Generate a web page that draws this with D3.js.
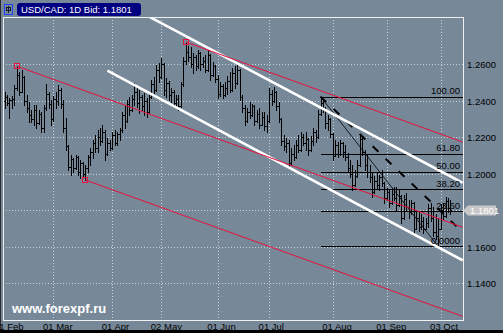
<!DOCTYPE html>
<html>
<head>
<meta charset="utf-8">
<script src="https://cdn.jsdelivr.net/npm/d3@7"></script>
<style>
  html, body { margin: 0; padding: 0; background: #778899; overflow: hidden; }
  svg { display: block; }
  text { font-family: "Liberation Sans", Arial, sans-serif; }
</style>
</head>
<body>
<script>
// daily USD/CAD bars, one entry per trading day
const opens = [
  1.2400, 1.2420, 1.2390, 1.2405, 1.2410, 1.2470, 1.2540, 1.2450, 1.2530, 1.2400,
  1.2360, 1.2320, 1.2300, 1.2350, 1.2280, 1.2330, 1.2250, 1.2360, 1.2440, 1.2380,
  1.2300, 1.2410, 1.2400, 1.2460, 1.2380, 1.2250, 1.2150, 1.2040, 1.2080, 1.2030,
  1.2090, 1.2010, 1.2060, 1.2000, 1.2030, 1.2090, 1.2120, 1.2170, 1.2140, 1.2200,
  1.2180, 1.2230, 1.2110, 1.2170, 1.2140, 1.2210, 1.2170, 1.2220, 1.2240, 1.2320,
  1.2290, 1.2380, 1.2350, 1.2410, 1.2450, 1.2390, 1.2420, 1.2370, 1.2400, 1.2340,
  1.2420, 1.2490, 1.2460, 1.2570, 1.2530, 1.2600, 1.2460, 1.2500, 1.2430, 1.2450,
  1.2390, 1.2410, 1.2370, 1.2490, 1.2620, 1.2670, 1.2640, 1.2600, 1.2640, 1.2590,
  1.2660, 1.2600, 1.2620, 1.2570, 1.2650, 1.2540, 1.2590, 1.2520, 1.2440, 1.2480,
  1.2430, 1.2470, 1.2510, 1.2460, 1.2550, 1.2500, 1.2570, 1.2420, 1.2360, 1.2290,
  1.2340, 1.2320, 1.2370, 1.2290, 1.2330, 1.2270, 1.2310, 1.2260, 1.2290, 1.2440,
  1.2400, 1.2450, 1.2370, 1.2300, 1.2180, 1.2150, 1.2170, 1.2060, 1.2110, 1.2090,
  1.2160, 1.2130, 1.2200, 1.2170, 1.2190, 1.2130, 1.2180, 1.2230, 1.2200, 1.2330,
  1.2390, 1.2360, 1.2280, 1.2300, 1.2220, 1.2100, 1.2160, 1.2110, 1.2170, 1.2120,
  1.2090, 1.2030, 1.2000, 1.1940, 1.1990, 1.2050, 1.2190, 1.2120, 1.2050, 1.2010,
  1.1980, 1.1900, 1.1960, 1.1940, 1.1980, 1.1950, 1.1870, 1.1900, 1.1840, 1.1890,
  1.1870, 1.1830, 1.1880, 1.1760, 1.1860, 1.1820, 1.1790, 1.1840, 1.1700, 1.1760,
  1.1710, 1.1740, 1.1700, 1.1730, 1.1810, 1.1760, 1.1680, 1.1660, 1.1700, 1.1800,
  1.1770, 1.1850, 1.1810
];
const highs = [
  1.2448, 1.2432, 1.2416, 1.2427, 1.2487, 1.2590, 1.2558, 1.2569, 1.2536, 1.2432,
  1.2394, 1.2350, 1.2378, 1.2378, 1.2350, 1.2340, 1.2378, 1.2492, 1.2448, 1.2405,
  1.2427, 1.2448, 1.2487, 1.2470, 1.2405, 1.2307, 1.2159, 1.2105, 1.2088, 1.2105,
  1.2096, 1.2077, 1.2066, 1.2050, 1.2105, 1.2143, 1.2186, 1.2214, 1.2241, 1.2252,
  1.2268, 1.2240, 1.2197, 1.2186, 1.2230, 1.2241, 1.2230, 1.2252, 1.2340, 1.2378,
  1.2405, 1.2421, 1.2432, 1.2498, 1.2470, 1.2459, 1.2432, 1.2443, 1.2416, 1.2432,
  1.2514, 1.2530, 1.2596, 1.2607, 1.2634, 1.2605, 1.2525, 1.2508, 1.2470, 1.2459,
  1.2432, 1.2432, 1.2503, 1.2640, 1.2722, 1.2700, 1.2695, 1.2662, 1.2651, 1.2678,
  1.2667, 1.2640, 1.2651, 1.2678, 1.2655, 1.2612, 1.2596, 1.2541, 1.2503, 1.2492,
  1.2503, 1.2536, 1.2558, 1.2580, 1.2591, 1.2596, 1.2575, 1.2432, 1.2378, 1.2361,
  1.2394, 1.2383, 1.2376, 1.2350, 1.2361, 1.2340, 1.2340, 1.2323, 1.2470, 1.2459,
  1.2476, 1.2455, 1.2394, 1.2307, 1.2214, 1.2197, 1.2186, 1.2143, 1.2159, 1.2186,
  1.2214, 1.2230, 1.2219, 1.2230, 1.2197, 1.2208, 1.2252, 1.2241, 1.2350, 1.2423,
  1.2405, 1.2365, 1.2323, 1.2305, 1.2225, 1.2186, 1.2175, 1.2186, 1.2175, 1.2159,
  1.2115, 1.2077, 1.2050, 1.2023, 1.2077, 1.2219, 1.2208, 1.2132, 1.2105, 1.2050,
  1.2012, 1.1990, 1.2006, 1.1995, 1.2023, 1.1955, 1.1924, 1.1913, 1.1924, 1.1929,
  1.1929, 1.1913, 1.1885, 1.1886, 1.1897, 1.1859, 1.1859, 1.1845, 1.1793, 1.1788,
  1.1777, 1.1766, 1.1760, 1.1832, 1.1842, 1.1820, 1.1777, 1.1760, 1.1832, 1.1842,
  1.1875, 1.1870, 1.1859
];
const lows = [
  1.2361, 1.2378, 1.2307, 1.2361, 1.2378, 1.2459, 1.2432, 1.2448, 1.2378, 1.2340,
  1.2285, 1.2285, 1.2268, 1.2252, 1.2274, 1.2230, 1.2230, 1.2350, 1.2361, 1.2268,
  1.2292, 1.2361, 1.2378, 1.2361, 1.2230, 1.2132, 1.2023, 1.1995, 1.2012, 1.2025,
  1.1995, 1.1979, 1.1990, 1.1966, 1.2012, 1.2050, 1.2088, 1.2121, 1.2121, 1.2159,
  1.2175, 1.2077, 1.2105, 1.2132, 1.2135, 1.2159, 1.2159, 1.2186, 1.2230, 1.2252,
  1.2285, 1.2323, 1.2345, 1.2378, 1.2367, 1.2334, 1.2350, 1.2323, 1.2312, 1.2335,
  1.2415, 1.2432, 1.2455, 1.2503, 1.2525, 1.2432, 1.2421, 1.2405, 1.2394, 1.2378,
  1.2361, 1.2350, 1.2365, 1.2480, 1.2600, 1.2620, 1.2585, 1.2552, 1.2569, 1.2580,
  1.2569, 1.2585, 1.2558, 1.2565, 1.2514, 1.2535, 1.2503, 1.2416, 1.2427, 1.2416,
  1.2425, 1.2437, 1.2448, 1.2455, 1.2470, 1.2492, 1.2405, 1.2340, 1.2268, 1.2285,
  1.2307, 1.2315, 1.2268, 1.2285, 1.2252, 1.2265, 1.2241, 1.2230, 1.2285, 1.2378,
  1.2394, 1.2350, 1.2285, 1.2159, 1.2132, 1.2121, 1.2034, 1.2050, 1.2077, 1.2085,
  1.2121, 1.2125, 1.2159, 1.2132, 1.2105, 1.2125, 1.2159, 1.2175, 1.2195, 1.2323,
  1.2340, 1.2252, 1.2241, 1.2203, 1.2077, 1.2095, 1.2094, 1.2105, 1.2094, 1.2077,
  1.2012, 1.1984, 1.1913, 1.1935, 1.1984, 1.2045, 1.2105, 1.2023, 1.1984, 1.1957,
  1.1875, 1.1895, 1.1924, 1.1913, 1.1935, 1.1842, 1.1859, 1.1820, 1.1836, 1.1859,
  1.1804, 1.1825, 1.1733, 1.1755, 1.1804, 1.1760, 1.1777, 1.1678, 1.1695, 1.1684,
  1.1695, 1.1678, 1.1695, 1.1706, 1.1739, 1.1657, 1.1641, 1.1602, 1.1695, 1.1750,
  1.1765, 1.1793, 1.1777
];
const closes = [
  1.2420, 1.2390, 1.2405, 1.2410, 1.2470, 1.2540, 1.2450, 1.2530, 1.2400, 1.2360,
  1.2320, 1.2300, 1.2350, 1.2280, 1.2330, 1.2250, 1.2360, 1.2440, 1.2380, 1.2300,
  1.2410, 1.2400, 1.2460, 1.2380, 1.2250, 1.2150, 1.2040, 1.2080, 1.2030, 1.2090,
  1.2010, 1.2060, 1.2000, 1.2030, 1.2090, 1.2120, 1.2170, 1.2140, 1.2200, 1.2180,
  1.2230, 1.2110, 1.2170, 1.2140, 1.2210, 1.2170, 1.2220, 1.2240, 1.2320, 1.2290,
  1.2380, 1.2350, 1.2410, 1.2450, 1.2390, 1.2420, 1.2370, 1.2400, 1.2340, 1.2420,
  1.2490, 1.2460, 1.2570, 1.2530, 1.2600, 1.2460, 1.2500, 1.2430, 1.2450, 1.2390,
  1.2410, 1.2370, 1.2490, 1.2620, 1.2670, 1.2640, 1.2600, 1.2640, 1.2590, 1.2660,
  1.2600, 1.2620, 1.2570, 1.2650, 1.2540, 1.2590, 1.2520, 1.2440, 1.2480, 1.2430,
  1.2470, 1.2510, 1.2460, 1.2550, 1.2500, 1.2570, 1.2420, 1.2360, 1.2290, 1.2340,
  1.2320, 1.2370, 1.2290, 1.2330, 1.2270, 1.2310, 1.2260, 1.2290, 1.2440, 1.2400,
  1.2450, 1.2370, 1.2300, 1.2180, 1.2150, 1.2170, 1.2060, 1.2110, 1.2090, 1.2160,
  1.2130, 1.2200, 1.2170, 1.2190, 1.2130, 1.2180, 1.2230, 1.2200, 1.2330, 1.2390,
  1.2360, 1.2280, 1.2300, 1.2220, 1.2100, 1.2160, 1.2110, 1.2170, 1.2120, 1.2090,
  1.2030, 1.2000, 1.1940, 1.1990, 1.2050, 1.2190, 1.2120, 1.2050, 1.2010, 1.1980,
  1.1900, 1.1960, 1.1940, 1.1980, 1.1950, 1.1870, 1.1900, 1.1840, 1.1890, 1.1870,
  1.1830, 1.1880, 1.1760, 1.1860, 1.1820, 1.1790, 1.1840, 1.1700, 1.1760, 1.1710,
  1.1740, 1.1700, 1.1730, 1.1810, 1.1760, 1.1680, 1.1660, 1.1700, 1.1800, 1.1770,
  1.1850, 1.1810, 1.1801
];

// axis ticks (bar index of the first bar of each month)
const monthIdx = [0, 20, 44, 64, 87, 108, 134, 156, 178];
const monthLabels = ["01 Feb", "01 Mar", "01 Apr", "02 May", "01 Jun", "01 Jul", "01 Aug", "01 Sep", "03 Oct"];
const priceTicks = [1.14, 1.16, 1.18, 1.20, 1.22, 1.24, 1.26];

// drawn objects: [barIndex, price] pairs
const redLines = [
  [[5, 1.2590], [187, 1.1707]],
  [[74, 1.2722], [187, 1.2174]],
  [[33, 1.1966], [187, 1.1219]]
];
const redMarks = [[5, 1.2590], [33, 1.1966], [74, 1.2722]];
const whiteLines = [
  [[59, 1.2861], [187, 1.1951]],
  [[42, 1.2565], [187, 1.1526]]
];
const dashLine = [[129, 1.2423], [187, 1.1680]];
const fibFrom = [129, 1.2423];
const fibTo = [177, 1.1602];
const fibLevels = [0, 23.6, 38.2, 50, 61.8, 100];
const fibLabels = ["0.0000", "23.60", "38.20", "50.00", "61.80", "100.00"];
const bid = 1.1801;

const W = 503, H = 333;
const plot = { left: 3, top: 17, right: 463, bottom: 320 };

const svg = d3.select("body").append("svg")
  .attr("width", W).attr("height", H);

// outer frame
svg.append("rect").attr("width", W).attr("height", H).attr("fill", "#778899");
svg.append("rect").attr("x", 0).attr("y", 0).attr("width", 1).attr("height", H).attr("fill", "#2a2a2a");
svg.append("rect").attr("x", 0).attr("y", H - 3).attr("width", W).attr("height", 3).attr("fill", "#000");

const x = d3.scaleLinear().domain([0, 182]).range([4.5, 450.4]);
const y = d3.scaleLinear().domain([1.14, 1.26]).range([283.3, 64.3]);

svg.append("clipPath").attr("id", "clip")
  .append("rect")
  .attr("x", plot.left).attr("y", plot.top)
  .attr("width", plot.right - plot.left).attr("height", plot.bottom - plot.top);

// grid
const grid = svg.append("g")
  .attr("stroke", "#c8d0d8")
  .attr("stroke-dasharray", "1,2")
  .attr("shape-rendering", "crispEdges");
grid.selectAll("line.v").data(monthIdx.slice(1)).join("line")
  .attr("x1", d => Math.round(x(d)) + 0.5).attr("x2", d => Math.round(x(d)) + 0.5)
  .attr("y1", plot.top).attr("y2", plot.bottom);
grid.selectAll("line.h").data(priceTicks).join("line")
  .attr("x1", plot.left).attr("x2", plot.right)
  .attr("y1", d => Math.round(y(d)) + 0.5).attr("y2", d => Math.round(y(d)) + 0.5);

// x axis labels
const xAxis = d3.axisBottom(x)
  .tickValues(monthIdx)
  .tickSize(0)
  .tickFormat((d, i) => monthLabels[i]);
const gx = svg.append("g")
  .attr("transform", `translate(0,${plot.bottom})`)
  .call(xAxis);
gx.select(".domain").remove();
gx.selectAll("text")
  .attr("text-anchor", "start")
  .attr("dx", -11)
  .attr("y", 9.5)
  .attr("dy", 0)
  .attr("fill", "#000")
  .style("font-size", "9.5px")
  .style("font-family", '"Liberation Sans", Arial, sans-serif');

// y axis labels (the one under the bid marker is hidden, as in the terminal)
const yAxis = d3.axisRight(y)
  .tickValues(priceTicks.filter(p => Math.abs(p - bid) > 0.005))
  .tickSize(0)
  .tickFormat(d3.format(".4f"));
const gy = svg.append("g")
  .attr("transform", `translate(${plot.right},0)`)
  .call(yAxis);
gy.select(".domain").remove();
gy.selectAll("text")
  .attr("x", 4)
  .attr("dy", "0.34em")
  .attr("fill", "#000")
  .style("font-size", "9.5px")
  .style("font-family", '"Liberation Sans", Arial, sans-serif');

const chart = svg.append("g").attr("clip-path", "url(#clip)");

// ** bars
const px = i => Math.round(x(i));
const py = p => Math.round(y(p)) + 0.5;
chart.append("g")
  .attr("stroke", "#000")
  .attr("fill", "none")
  .attr("shape-rendering", "crispEdges")
  .selectAll("path")
  .data(d3.range(closes.length))
  .join("path")
  .attr("d", i => {
    const cx = px(i) + 0.5;
    return `M${cx},${Math.round(y(highs[i]))}V${Math.round(y(lows[i])) + 1}` +
      `M${px(i) - 1},${py(opens[i])}H${px(i)}` +
      `M${px(i) + 1},${py(closes[i])}H${px(i) + 2}`;
  });

// ** fibonacci
const fibHigh = fibFrom[1], fibLow = fibTo[1];
const fibG = chart.append("g");
fibG.selectAll("line").data(fibLevels).join("line")
  .attr("x1", x(fibFrom[0])).attr("x2", plot.right)
  .attr("y1", d => py(fibLow + (fibHigh - fibLow) * d / 100))
  .attr("y2", d => py(fibLow + (fibHigh - fibLow) * d / 100))
  .attr("stroke", "#000")
  .attr("shape-rendering", "crispEdges");
fibG.append("line")
  .attr("x1", x(fibFrom[0])).attr("y1", y(fibFrom[1]))
  .attr("x2", x(fibTo[0])).attr("y2", y(fibTo[1]))
  .attr("stroke", "#000").attr("stroke-width", 0.8);

// dashed trend
chart.append("line")
  .attr("x1", x(dashLine[0][0])).attr("y1", y(dashLine[0][1]))
  .attr("x2", x(dashLine[1][0])).attr("y2", y(dashLine[1][1]))
  .attr("stroke", "#000").attr("stroke-width", 2)
  .attr("stroke-dasharray", "8,10");

// white channel
chart.selectAll("line.white").data(whiteLines).join("line")
  .attr("class", "white")
  .attr("x1", d => x(d[0][0])).attr("y1", d => y(d[0][1]))
  .attr("x2", d => x(d[1][0])).attr("y2", d => y(d[1][1]))
  .attr("stroke", "#fff").attr("stroke-width", 2.6);

// red channel
chart.selectAll("line.red").data(redLines).join("line")
  .attr("class", "red")
  .attr("x1", d => x(d[0][0])).attr("y1", d => y(d[0][1]))
  .attr("x2", d => x(d[1][0])).attr("y2", d => y(d[1][1]))
  .attr("stroke", "#e8103c").attr("stroke-width", 1);
chart.selectAll("rect.mark").data(redMarks).join("rect")
  .attr("class", "mark")
  .attr("x", d => Math.round(x(d[0])) - 2.5).attr("y", d => Math.round(y(d[1])) - 2.5)
  .attr("width", 5).attr("height", 5)
  .attr("fill", "none").attr("stroke", "#e8103c")
  .attr("shape-rendering", "crispEdges");

// fib labels
chart.selectAll("text.fib").data(fibLevels).join("text")
  .attr("class", "fib")
  .attr("x", 460)
  .attr("y", d => y(fibLow + (fibHigh - fibLow) * d / 100) - 2.5)
  .attr("text-anchor", "end")
  .attr("fill", "#000")
  .style("font-size", "9.5px")
  .text((d, i) => fibLabels[i]);

// watermark
svg.append("text")
  .attr("x", 12).attr("y", 313)
  .attr("fill", "#fff")
  .style("font-size", "13px")
  .style("font-weight", "bold")
  .text("www.forexpf.ru");

// plot frame
svg.append("rect")
  .attr("x", plot.left + 0.5).attr("y", plot.top + 0.5)
  .attr("width", plot.right - plot.left).attr("height", plot.bottom - plot.top)
  .attr("fill", "none").attr("stroke", "#f0f0f0")
  .attr("shape-rendering", "crispEdges");

// bid label
const by = Math.round(y(bid)) + 0.5;
svg.append("path")
  .attr("d", `M${plot.right},${by}L${plot.right + 5},${by - 5}H496V${by + 5}H${plot.right + 5}Z`)
  .attr("fill", "#c8c8c8");
svg.append("text")
  .attr("x", 470).attr("y", by + 3.5)
  .attr("fill", "#fff")
  .style("font-size", "9.5px")
  .text(d3.format(".4f")(bid));

// title
svg.append("rect")
  .attr("x", 17).attr("y", 3).attr("width", 124).attr("height", 13).attr("rx", 3)
  .attr("fill", "#000080");
svg.append("text")
  .attr("x", 21).attr("y", 13.2)
  .attr("fill", "#fff")
  .style("font-size", "9.5px")
  .text(`USD/CAD: 1D Bid: ${d3.format(".4f")(bid)}`);

// small icon
const icon = svg.append("g").attr("shape-rendering", "crispEdges");
icon.append("rect").attr("x", 4.5).attr("y", 4.5).attr("width", 8).attr("height", 10)
  .attr("fill", "none").attr("stroke", "#2040ff");
icon.append("path").attr("d", "M8.5,6V13M6.5,7.5H10.5V10.5H6.5Z")
  .attr("fill", "none").attr("stroke", "#101830");
</script>
</body>
</html>
